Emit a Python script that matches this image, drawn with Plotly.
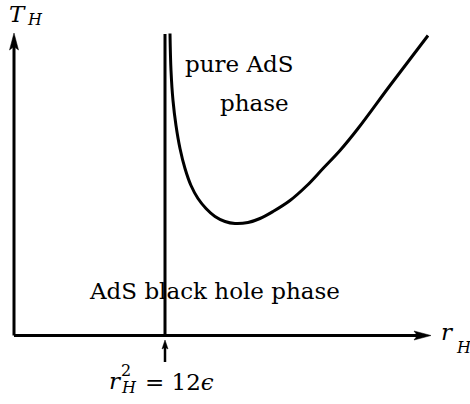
import plotly.graph_objects as go

# ---- data ----
curve_r = [1.56, 1.57, 1.59, 1.62, 1.66, 1.71, 1.77, 1.84, 1.92, 2.01, 2.11,
           2.21, 2.34, 2.46, 2.59, 2.76, 2.93, 3.09, 3.26, 3.44, 3.76, 4.14]
curve_T = [3.02, 2.65, 2.35, 2.10, 1.87, 1.67, 1.50, 1.37, 1.27, 1.19, 1.14,
           1.12, 1.13, 1.17, 1.24, 1.35, 1.50, 1.67, 1.85, 2.07, 2.50, 3.00]
r_critical = 1.51          # r_H^2 = 12 eps
axis_r_max = 4.17
axis_T_max = 3.02

# ---- pixel <-> data helpers (layout only) ----
X0, Y0, S = 14.0, 335.5, 100.0
def dx(px):
    return (px - X0) / S
def dy(py):
    return (Y0 - py) / S

FONT = "DejaVu Serif"
BLACK = "#000000"
BIG, SMALL = 23, 16

fig = go.Figure()
fig.add_trace(go.Scatter(x=curve_r, y=curve_T, mode="lines",
                         line=dict(color=BLACK, width=3, shape="spline", smoothing=1.0),
                         hoverinfo="skip"))

shapes = []
# axes
shapes.append(dict(type="line", xref="x", yref="y", x0=0, y0=0, x1=axis_r_max - 0.1, y1=0,
                   line=dict(color=BLACK, width=3)))
shapes.append(dict(type="line", xref="x", yref="y", x0=0, y0=0, x1=0, y1=axis_T_max - 0.1,
                   line=dict(color=BLACK, width=3)))
# vertical critical line
shapes.append(dict(type="line", xref="x", yref="y", x0=r_critical, y0=0, x1=r_critical, y1=dy(34),
                   line=dict(color=BLACK, width=3)))
# small pointer under axis
shapes.append(dict(type="line", xref="x", yref="y", x0=r_critical, y0=dy(362), x1=r_critical, y1=dy(345),
                   line=dict(color=BLACK, width=2.5)))

def tri(tip, back, half, horizontal):
    tx, ty = tip
    if horizontal:
        pts = [(tx, ty), (tx - back, ty - half), (tx - back * 0.8, ty), (tx - back, ty + half)]
    else:
        pts = [(tx, ty), (tx - half, ty + back), (tx, ty + back * 0.8), (tx + half, ty + back)]
    return "M " + " L ".join(f"{dx(x):.4f},{dy(y):.4f}" for x, y in pts) + " Z"

for path in [tri((431, 335.5), 17, 4.5, True), tri((14, 33), 17, 4.5, False), tri((165, 340), 9, 3, False)]:
    shapes.append(dict(type="path", xref="x", yref="y", path=path,
                       fillcolor=BLACK, line=dict(color=BLACK, width=0.5)))

def label(text, px, py, size, italic=False):
    t = f"<i>{text}</i>" if italic else text
    fig.add_annotation(x=dx(px), y=dy(py), xref="x", yref="y", text=t, showarrow=False,
                       xanchor="center", yanchor="middle",
                       font=dict(family=FONT, size=size, color=BLACK))

# text
label("pure AdS", 239, 64, BIG)
label("phase", 254, 103, BIG)
label("AdS black hole phase", 214, 291, BIG)
label("T", 17.5, 14, BIG, True)
label("H", 34.5, 19.5, SMALL, True)
label("r", 447.5, 331.5, BIG, True)
label("H", 463.5, 347, SMALL, True)
label("r", 115, 380.5, BIG, True)
label("2", 126, 370, SMALL)
label("H", 128.5, 387.5, SMALL, True)
label("= 12<i>ϵ</i>", 179, 382, BIG)

fig.update_layout(
    width=470, height=404, autosize=False,
    margin=dict(l=0, r=0, t=0, b=0, pad=0),
    paper_bgcolor="white", plot_bgcolor="white",
    showlegend=False, shapes=shapes,
    xaxis=dict(visible=False, range=[dx(0), dx(470)], fixedrange=True),
    yaxis=dict(visible=False, range=[dy(404), dy(0)], fixedrange=True),
)

fig.write_html("out.html", config={"displayModeBar": False},
               post_script="document.body.style.margin='0';")
